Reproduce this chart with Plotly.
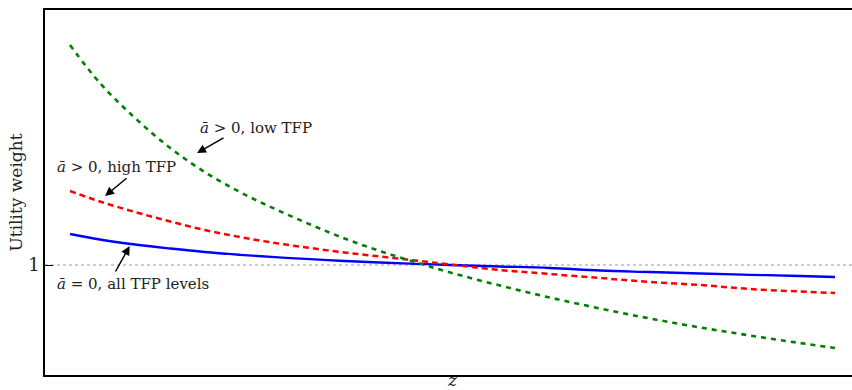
import plotly.graph_objects as go

# z values (normalised horizontal axis)
z = [0.0, 0.039, 0.085, 0.131, 0.176, 0.222, 0.268, 0.314, 0.359, 0.405,
     0.451, 0.497, 0.562, 0.627, 0.693, 0.758, 0.824, 0.889, 0.954, 1.0]

low_tfp = [2.1, 1.91, 1.735, 1.585, 1.465, 1.365, 1.28, 1.2025, 1.1325, 1.07,
           1.015, 0.9625, 0.8975, 0.8375, 0.7825, 0.7325, 0.6875, 0.6475, 0.61, 0.585]
high_tfp = [1.37, 1.3175, 1.265, 1.2175, 1.175, 1.14, 1.11, 1.085, 1.0625, 1.0425,
            1.0225, 1.0025, 0.975, 0.955, 0.935, 0.915, 0.90, 0.88, 0.8675, 0.86]
abar_zero = [1.155, 1.1275, 1.1025, 1.0825, 1.065, 1.051, 1.039, 1.029, 1.02, 1.0125,
             1.006, 1.0, 0.9925, 0.985, 0.9725, 0.965, 0.9575, 0.951, 0.945, 0.94]

y_ticks = [1]
y_tick_labels = ["1"]

FONT = "DejaVu Serif"

fig = go.Figure()
fig.add_trace(go.Scatter(x=z, y=abar_zero, mode="lines", line=dict(color="#0000ff", width=2.3, shape="spline", smoothing=1), showlegend=False))
fig.add_trace(go.Scatter(x=z, y=high_tfp, mode="lines", line=dict(color="#ff0000", width=2.5, dash="6px,4px", shape="spline", smoothing=1), showlegend=False))
fig.add_trace(go.Scatter(x=z, y=low_tfp, mode="lines", line=dict(color="#008000", width=2.6, dash="5px,5px", shape="spline", smoothing=1), showlegend=False))

fig.add_shape(type="line", xref="paper", yref="y", x0=0, x1=1, y0=1, y1=1,
              line=dict(color="#999999", width=1, dash="dot"), layer="below")

txt_font = dict(family=FONT, size=15, color="#222222")
texts = [
    ("<i>ā</i> > 0, low TFP", 0.167, 1.685),
    ("<i>ā</i> > 0, high TFP", -0.0196, 1.49),
    ("<i>ā</i> = 0, all TFP levels", -0.0196, 0.905),
]
for t, xx, yy in texts:
    fig.add_annotation(x=xx, y=yy, text=t, showarrow=False, xanchor="left", yanchor="middle", font=txt_font)

arrows = [
    (0.166, 1.56, 28, -16),
    (0.0458, 1.345, 23, -19),
    (0.078, 1.095, -15, 27),
]
for xx, yy, ax, ay in arrows:
    fig.add_annotation(x=xx, y=yy, ax=ax, ay=ay, text="", showarrow=True,
                       arrowhead=2, arrowsize=1.2, arrowwidth=1.5, arrowcolor="black")

fig.add_annotation(x=0.5, y=0, xref="paper", yref="paper", text="<i>z</i>", showarrow=False,
                   xanchor="center", yanchor="top", xshift=4, yshift=7,
                   font=dict(family=FONT, size=17, color="#222222"))

fig.update_layout(
    width=852, height=390,
    margin=dict(l=45, r=0, t=10, b=15),
    paper_bgcolor="white", plot_bgcolor="white",
    xaxis=dict(range=[-0.0327, 1.0222], showgrid=False, zeroline=False,
               showline=True, linecolor="black", linewidth=1.5, mirror=True,
               showticklabels=False, ticks=""),
    yaxis=dict(range=[0.45, 2.275], showgrid=False, zeroline=False,
               showline=True, linecolor="black", linewidth=1.5, mirror=False,
               tickvals=y_ticks, ticktext=y_tick_labels, ticks="inside", ticklen=8,
               tickcolor="black", tickfont=dict(family=FONT, size=18, color="#222222"),
               title=dict(text="Utility weight", font=dict(family=FONT, size=17, color="#222222"), standoff=1)),
)

fig.write_html("out.html")
